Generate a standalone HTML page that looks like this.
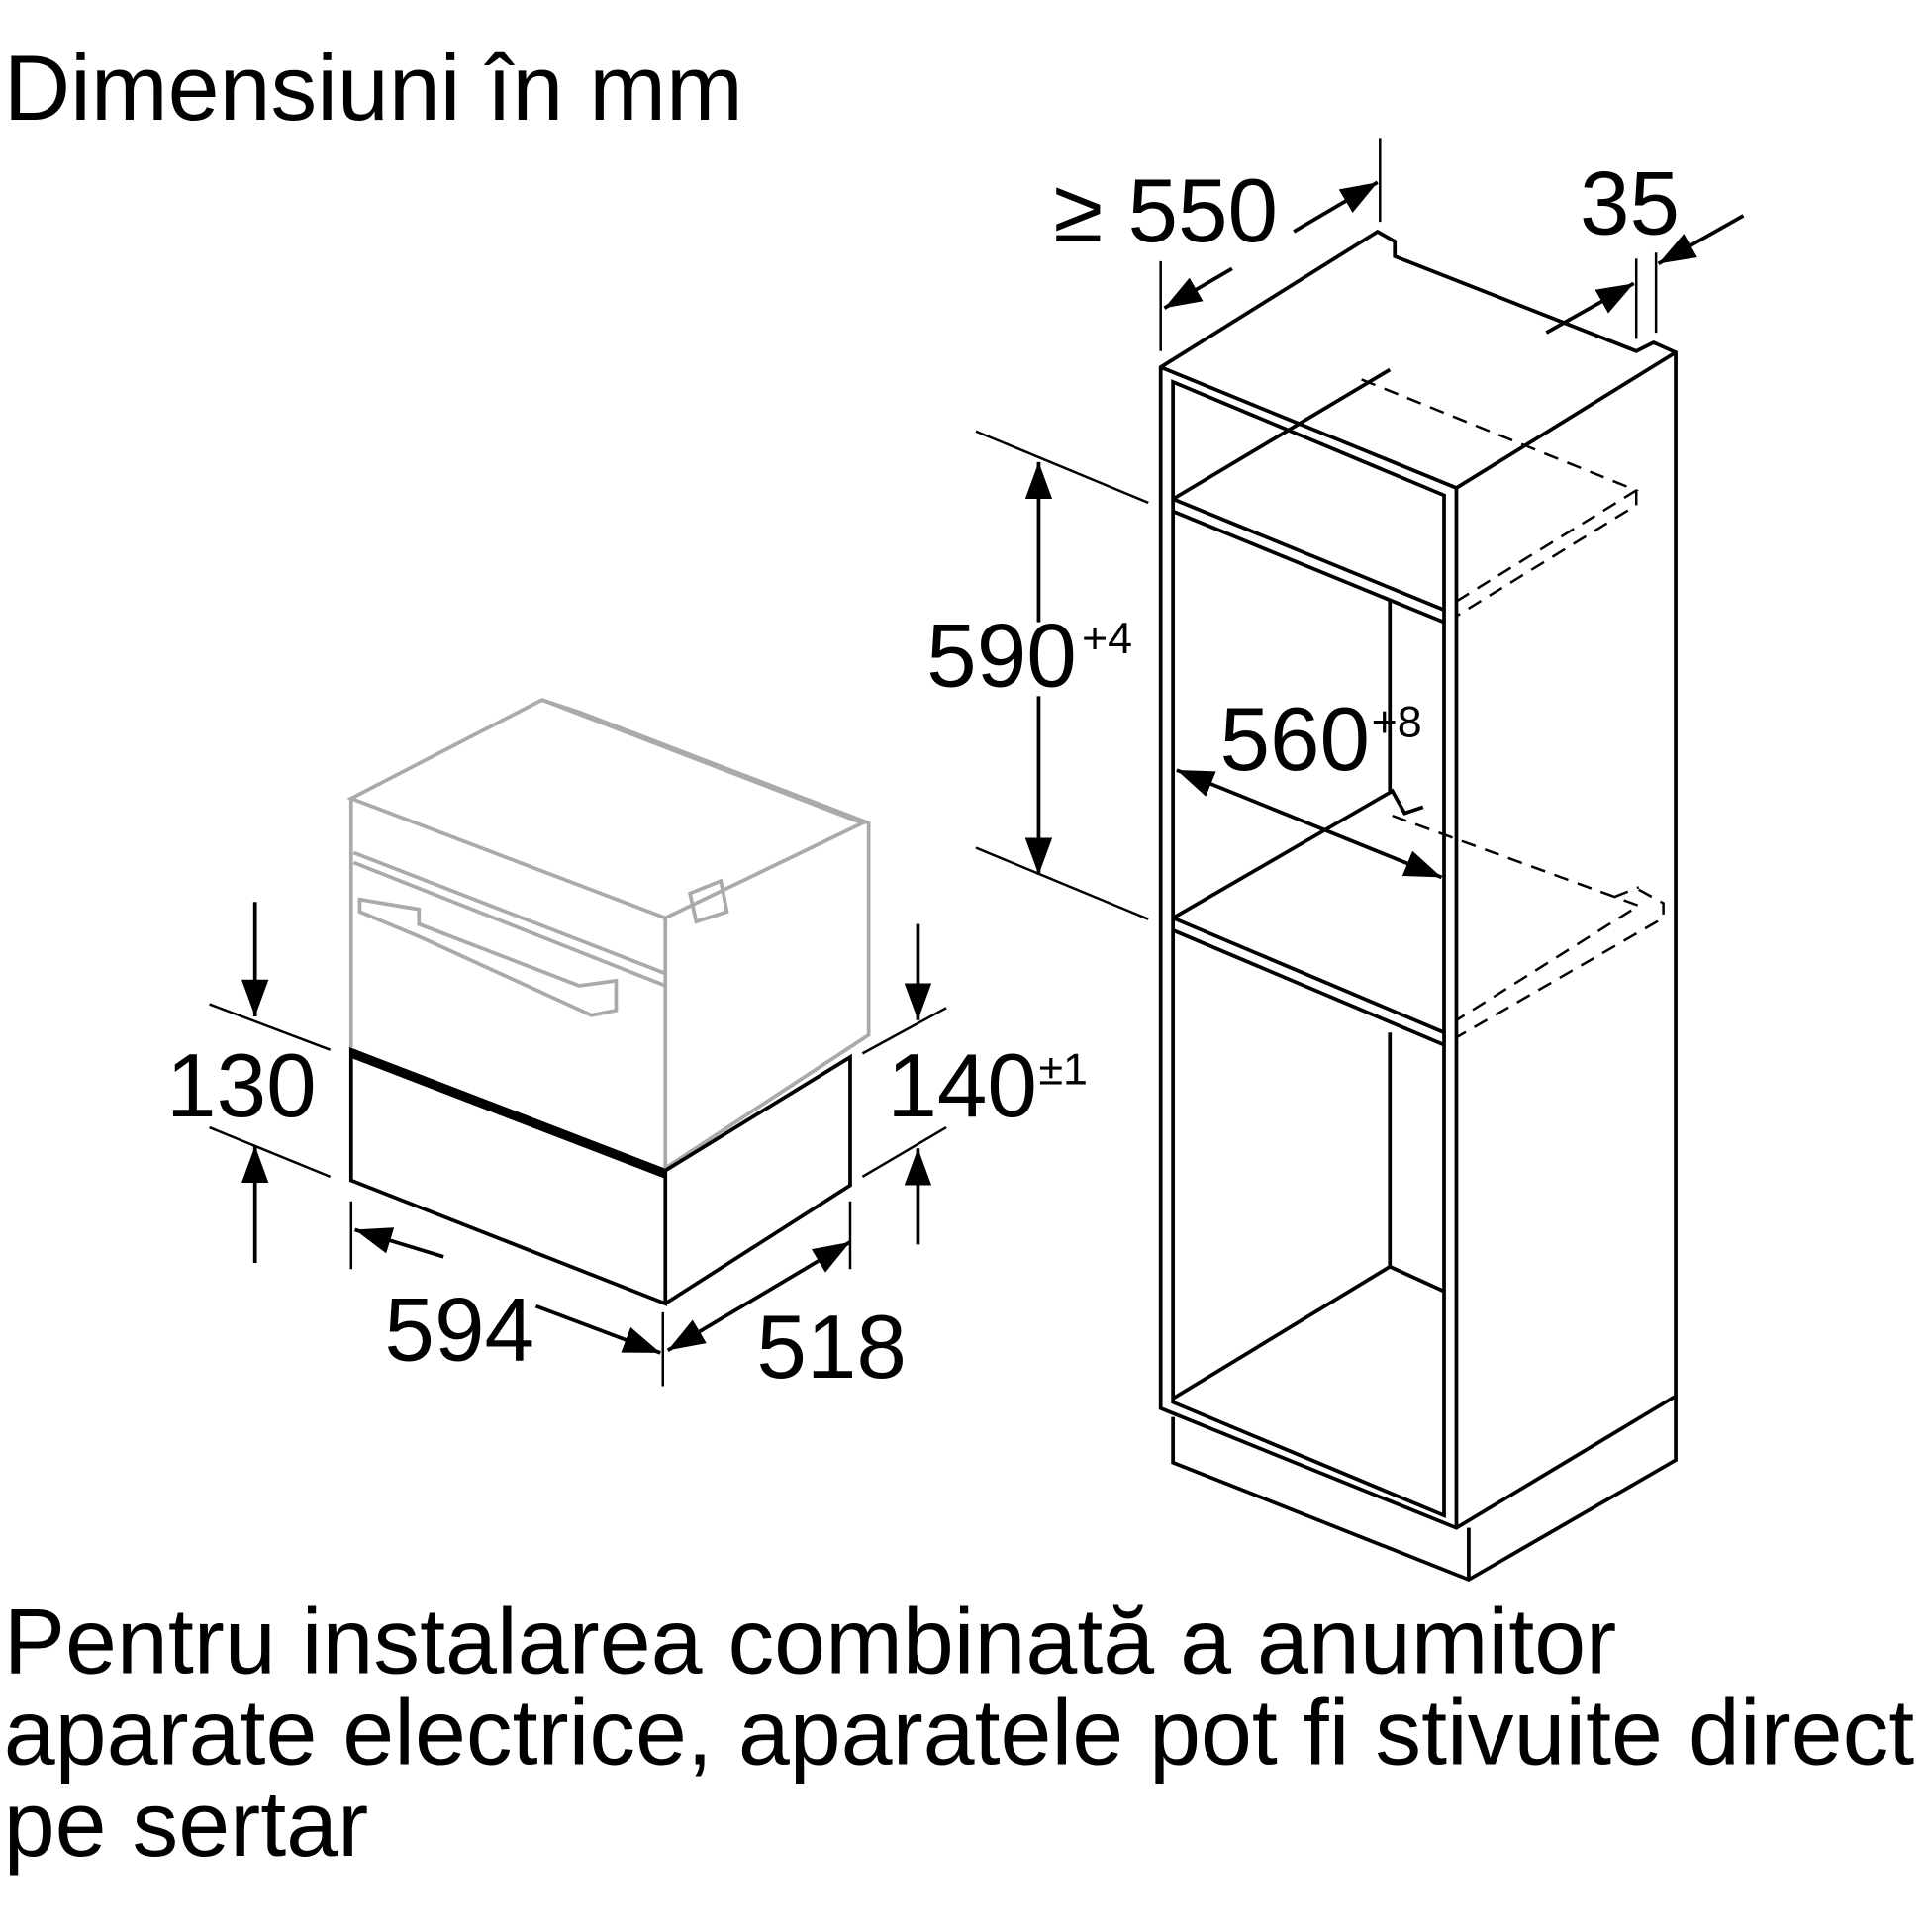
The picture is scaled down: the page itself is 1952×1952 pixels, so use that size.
<!DOCTYPE html>
<html><head><meta charset="utf-8"><style>
html,body{margin:0;padding:0;background:#fff;}
svg{display:block;}
text{font-family:"Liberation Sans",sans-serif;fill:#000;}
</style></head><body>
<svg width="1952" height="1952" viewBox="0 0 1568 1568" xmlns="http://www.w3.org/2000/svg">
<defs>
<marker id="a" viewBox="0 0 30 22" refX="30" refY="11" markerWidth="30" markerHeight="22" orient="auto-start-reverse" markerUnits="userSpaceOnUse"><path d="M0,0 L30,11 L0,22 z"/></marker>
</defs>
<text x="3" y="97" font-size="75">Dimensiuni în mm</text>
<text x="3" y="1358" font-size="75">Pentru instalarea combinată a anumitor</text>
<text x="3" y="1432" font-size="75">aparate electrice, aparatele pot fi stivuite direct</text>
<text x="3" y="1506" font-size="75">pe sertar</text>

<!-- grey oven -->
<g fill="none" stroke="#aaa" stroke-width="3">
<path d="M285,648 L440,568 L700,668 L540,745 Z"/>
<path d="M440,568 L470,578 L705,668 L705,840 L540,948"/>
<path d="M285,648 L285,850 M540,745 L540,948"/>
<path d="M287,692 L540,790 M287,700 L540,800"/>
<path d="M292,730 L340,738 L340,750 L470,800 L500,796 L500,820 L480,824 L340,760 L292,740 Z"/>
<path d="M560,725 L585,715 L590,740 L565,748 Z"/>
</g>
<!-- drawer -->
<g fill="none" stroke="#000" stroke-width="3">
<path d="M285,852 L540,950 L540,1058 L285,958 Z"/>
<path d="M540,950 L690,858 L690,962 L540,1058"/>
<path d="M285,856 L540,954" stroke-width="5"/>
</g>
<!-- drawer dims -->
<g stroke="#000" stroke-width="2" fill="none">
<line x1="170" y1="815" x2="268" y2="852"/><line x1="170" y1="915" x2="268" y2="955"/>
<line x1="207" y1="732" x2="207" y2="825" marker-end="url(#a)" stroke-width="3"/>
<line x1="207" y1="1025" x2="207" y2="930" marker-end="url(#a)" stroke-width="3"/>
<line x1="700" y1="855" x2="768" y2="818"/><line x1="700" y1="955" x2="768" y2="915"/>
<line x1="745" y1="750" x2="745" y2="828" marker-end="url(#a)" stroke-width="3"/>
<line x1="745" y1="1010" x2="745" y2="932" marker-end="url(#a)" stroke-width="3"/>
<line x1="285" y1="975" x2="285" y2="1030"/><line x1="538" y1="1065" x2="538" y2="1125"/><line x1="690" y1="975" x2="690" y2="1030"/>
<line x1="360" y1="1020" x2="288" y2="998" marker-end="url(#a)" stroke-width="3"/>
<line x1="435" y1="1060" x2="536" y2="1098" marker-end="url(#a)" stroke-width="3"/>
<line x1="542" y1="1096" x2="690" y2="1008" marker-start="url(#a)" marker-end="url(#a)" stroke-width="3"/>
</g>
<text x="135" y="906" font-size="73">130</text>
<text x="720" y="906" font-size="73">140</text><text x="843" y="880" font-size="36">±1</text>
<text x="312" y="1104" font-size="73">594</text>
<text x="614" y="1118" font-size="73">518</text>

<!-- cabinet -->
<g fill="none" stroke="#000" stroke-width="3">
<path d="M942,298 L1118,188 L1132,196 L1132,208 L1328,285 L1342,278 L1360,286 L1360,1133 L1182,1240 L942,1143 Z"/>
<path d="M942,298 L1182,396 L1360,286"/>
<path d="M1182,396 L1182,1240"/>
<path d="M952,310 L1172,402 L1172,1230 L952,1138 Z"/>
<path d="M952,405 L1172,495 M952,415 L1172,505" />
<path d="M952,405 L1128,300"/>
<path d="M952,745 L1130,642 L1140,660 L1155,655"/>
<path d="M952,745 L1172,838 M952,755 L1172,848"/>
<path d="M952,1135 L1128,1028 L1172,1048"/>
<path d="M1128,488 L1128,642 M1128,838 L1128,1028"/>
<path d="M952,1150 L952,1187 L1192,1282 L1360,1185 L1360,1133 M1192,1240 L1192,1282"/>
</g>
<g fill="none" stroke="#000" stroke-width="2" stroke-dasharray="12,8">
<path d="M1105,308 L1328,398 L1182,488 M1328,398 L1328,410 L1182,500"/>
<path d="M1130,662 L1330,735 L1182,828 M1330,722 L1350,733 L1350,745 L1182,842 M1310,728 L1330,720"/>
</g>
<g stroke="#000" stroke-width="2" fill="none">
<line x1="942" y1="212" x2="942" y2="285"/><line x1="1120" y1="112" x2="1120" y2="180"/>
<line x1="945" y1="250" x2="1000" y2="218" marker-start="url(#a)" stroke-width="3"/>
<line x1="1050" y1="188" x2="1118" y2="148" marker-end="url(#a)" stroke-width="3"/>
<line x1="1328" y1="210" x2="1328" y2="275"/><line x1="1344" y1="205" x2="1344" y2="270"/>
<line x1="1255" y1="270" x2="1326" y2="230" marker-end="url(#a)" stroke-width="3"/>
<line x1="1415" y1="175" x2="1346" y2="214" marker-end="url(#a)" stroke-width="3"/>
<line x1="792" y1="350" x2="932" y2="408"/><line x1="792" y1="688" x2="932" y2="746"/>
<line x1="843" y1="375" x2="843" y2="505" marker-start="url(#a)" stroke-width="3"/>
<line x1="843" y1="565" x2="843" y2="710" marker-end="url(#a)" stroke-width="3"/>
<line x1="955" y1="625" x2="1170" y2="712" marker-start="url(#a)" marker-end="url(#a)" stroke-width="3"/>
</g>
<text x="855" y="196" font-size="73">≥ 550</text>
<text x="1282" y="190" font-size="73">35</text>
<text x="752" y="557" font-size="73">590</text><text x="878" y="530" font-size="36">+4</text>
<text x="990" y="625" font-size="73">560</text><text x="1113" y="598" font-size="36">+8</text>
</svg>
</body></html>
